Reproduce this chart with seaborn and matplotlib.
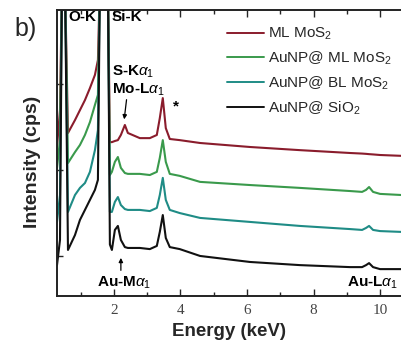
import numpy as np
import pandas as pd
import matplotlib
matplotlib.use("Agg")
import matplotlib.pyplot as plt
import seaborn as sns

# ---- data (intensity in arbitrary units, 100 = top of frame) ----
energy = [0.29, 0.38, 0.44, 0.53, 0.62, 0.83, 0.98, 1.13, 1.28, 1.43, 1.52, 1.58,
          1.82, 1.88, 1.94, 2.03, 2.12, 2.21, 2.33, 2.42, 2.78, 3.08, 3.29, 3.38,
          3.47, 3.56, 3.68, 3.98, 4.59, 6.09, 7.59, 9.10, 9.46, 9.58, 9.67, 9.79,
          10.00, 10.66]

ml_mos2 = [52.1, 65.0, 110, 110, 57.0, 61.5, 65.0, 68.5, 72.7, 77.3, 82.5, 110,
           110, 53.8, 53.8, 54.2, 54.5, 56.3, 59.8, 57.0, 55.2, 55.2, 56.3, 62.2,
           69.2, 58.7, 54.9, 54.5, 53.5, 52.1, 51.0, 50.0, 49.8, 49.7, 49.6, 49.5,
           49.3, 49.0]

au_ml_mos2 = [44.8, 54.5, 110, 110, 46.5, 50.3, 52.8, 56.3, 60.8, 66.8, 70.3, 110,
              110, 42.3, 43.4, 46.9, 48.6, 44.8, 43.0, 42.7, 42.7, 42.3, 43.4, 48.3,
              54.5, 46.9, 42.7, 42.0, 39.9, 38.8, 37.8, 36.7, 36.4, 37.1, 38.1, 36.4,
              35.7, 35.3]

au_bl_mos2 = [25.9, 35.3, 110, 110, 29.4, 35.3, 37.8, 39.5, 43.4, 51.0, 58.0, 110,
              110, 29.4, 29.4, 32.9, 34.6, 31.8, 30.4, 30.1, 30.1, 29.7, 30.8, 35.3,
              41.3, 33.6, 30.1, 29.0, 27.3, 25.9, 24.5, 23.4, 23.1, 23.8, 24.5, 23.1,
              22.7, 22.4]

au_sio2 = [10.8, 19.6, 110, 110, 16.1, 21.3, 26.6, 30.1, 33.6, 37.1, 40.6, 110,
           110, 18.0, 16.1, 23.1, 24.5, 19.6, 17.1, 16.8, 16.8, 16.4, 17.5, 22.4,
           28.3, 20.3, 17.1, 16.4, 14.0, 11.9, 10.8, 10.1, 10.1, 10.8, 11.5, 10.1,
           9.4, 9.4]

series_labels = ["ML MoS$_2$", "AuNP@ ML MoS$_2$", "AuNP@ BL MoS$_2$", "AuNP@ SiO$_2$"]
series_values = [ml_mos2, au_ml_mos2, au_bl_mos2, au_sio2]
series_colors = ["#8a1c2c", "#3a9a4c", "#1f8c86", "#111111"]
x_ticks = [2, 4, 6, 8, 10]

# ---- figure ----
sns.set_style("ticks")
plt.rcParams["font.family"] = ["Liberation Sans", "DejaVu Sans"]
plt.rcParams["mathtext.fontset"] = "custom"
plt.rcParams["mathtext.rm"] = "Liberation Sans"
plt.rcParams["mathtext.it"] = "Liberation Sans:italic"
plt.rcParams["mathtext.bf"] = "Liberation Sans:bold"

df = pd.concat(
    [pd.DataFrame({"Energy": energy, "Intensity": v, "Sample": lab})
     for lab, v in zip(series_labels, series_values)],
    ignore_index=True)

fig = plt.figure(figsize=(4.02, 3.41), dpi=100)
ax = fig.add_axes([57 / 402, 1 - 296 / 341, 1 - 57 / 402, 286 / 341])

sns.lineplot(data=df, x="Energy", y="Intensity", hue="Sample",
             hue_order=series_labels, palette=series_colors,
             estimator=None, sort=False, lw=1.5, ax=ax)

ax.set_xlim(0.29, 10.66)
ax.set_ylim(0, 100)
ax.set_xticks(x_ticks)
ax.set_xticks([1, 3, 5, 7, 9], minor=True)
ax.set_xticklabels([str(t) for t in x_ticks], family="Liberation Serif",
                   fontsize=11, color="#444444")
ax.set_yticks([14, 44, 74])
ax.set_yticklabels([])
ax.tick_params(axis="x", which="major", direction="in", length=5, width=1.0,
               top=True, pad=6)
ax.tick_params(axis="x", which="minor", direction="in", length=3, width=1.0, top=True)
ax.tick_params(axis="y", direction="in", length=4, width=1.0)
for s in ["left", "bottom", "top"]:
    ax.spines[s].set_linewidth(1.4)
    ax.spines[s].set_color("#222222")
ax.spines["right"].set_visible(False)

ax.set_xlabel("Energy (keV)", fontsize=13.5, fontweight="bold", labelpad=4)
ax.set_ylabel("Intensity (cps)", fontsize=14, fontweight="bold")
ax.yaxis.set_label_coords(-0.045, 0.47)

leg = ax.legend(loc="upper left", bbox_to_anchor=(227 / 402, 1 - 26 / 341),
                bbox_transform=fig.transFigure, frameon=False, fontsize=11,
                handlelength=2.4, handletextpad=0.3, labelspacing=0.48,
                borderpad=0, borderaxespad=0)
for line in leg.get_lines():
    line.set_linewidth(1.4)

bold = dict(fontweight="bold", fontsize=11, color="black")
ax.text(1.06, 97.4, "O-K", ha="center", va="center", **bold)
ax.text(1.94, 97.4, "Si-K", ha="left", va="center", **bold)
ax.text(1.94, 78.3, r"S-K$\alpha_1$", ha="left", va="center", **bold)
ax.text(1.94, 72.2, r"Mo-L$\alpha_1$", ha="left", va="center", **bold)
ax.annotate("", xy=(2.30, 60.8), xytext=(2.39, 69.6),
            arrowprops=dict(arrowstyle="-|>", lw=0.9, color="black", mutation_scale=6))
ax.text(3.86, 66.4, "*", ha="center", va="center", **bold)
ax.text(1.49, 4.5, r"Au-M$\alpha_1$", ha="left", va="center", **bold)
ax.annotate("", xy=(2.21, 14.3), xytext=(2.21, 8.0),
            arrowprops=dict(arrowstyle="-|>", lw=0.9, color="black", mutation_scale=6))
ax.text(10.54, 4.5, r"Au-L$\alpha_1$", ha="right", va="center", **bold)

fig.text(14 / 402, 1 - 29 / 341, "b)", fontsize=18, ha="left", va="center")

fig.savefig("out.png", dpi=100)
